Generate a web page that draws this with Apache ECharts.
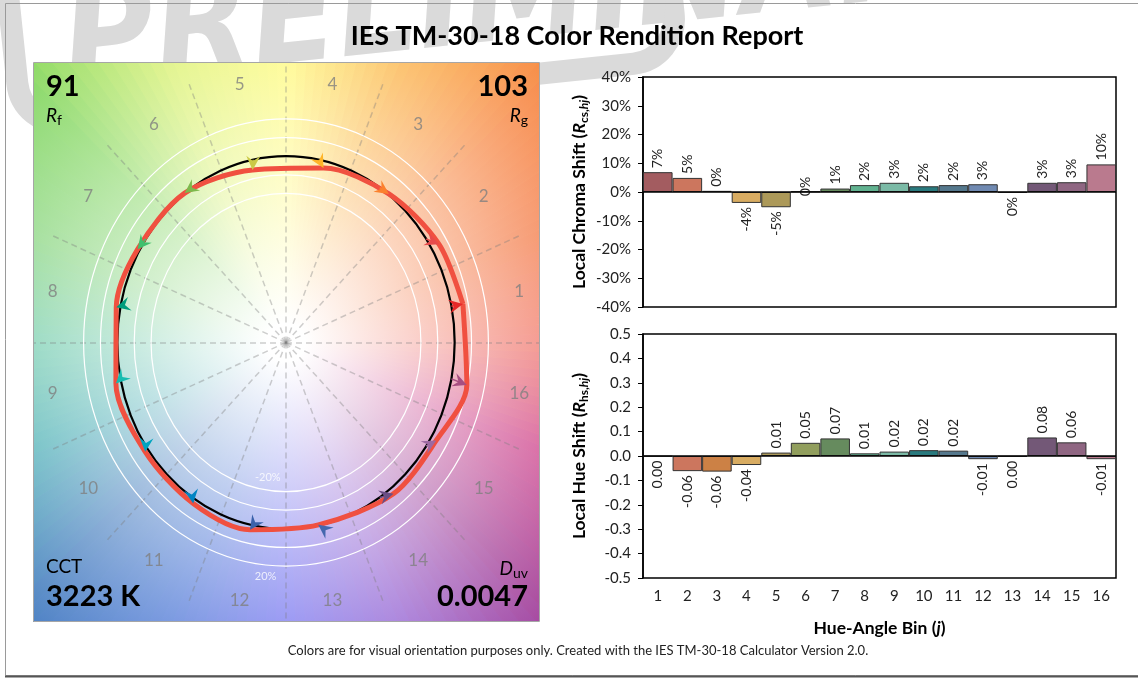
<!DOCTYPE html>
<html>
<head>
<meta charset="utf-8">
<script src="https://cdn.jsdelivr.net/npm/echarts@6/dist/echarts.min.js"></script>
<style>
  html, body { margin: 0; padding: 0; background: #fff; }
  #chart { width: 1138px; height: 679px; }
</style>
</head>
<body>
<div id="chart"></div>
<script>
var bins = ['1', '2', '3', '4', '5', '6', '7', '8', '9', '10', '11', '12', '13', '14', '15', '16'];
var binCenters = [11.25, 33.75, 56.25, 78.75, 101.25, 123.75, 146.25, 168.75, 191.25, 213.75, 236.25, 258.75, 281.25, 303.75, 326.25, 348.75];
var binEdges = [0, 22.5, 45, 67.5, 90, 112.5, 135, 157.5, 180, 202.5, 225, 247.5, 270, 292.5, 315, 337.5];
// local chroma shift, %
var chromaShift = [6.9, 4.9, 0.4, -3.8, -5.3, 0.2, 1.2, 2.4, 3.2, 2.0, 2.4, 2.7, -0.3, 3.2, 3.4, 9.6];
// local hue shift
var hueShift = [-0.002, -0.062, -0.064, -0.037, 0.014, 0.054, 0.072, 0.011, 0.018, 0.024, 0.022, -0.013, -0.003, 0.076, 0.056, -0.013];
var refRings = [0.8, 0.9, 1.1, 1.2];
var refCircle = [1.0];
var ringLabels = ['-20%', '20%'];
var Rf = 91, Rg = 103, CCT = 3223, Duv = 0.0047;

var barColors = ['#a35c60', '#cc765e', '#cc8145', '#d8ac62', '#ac9959', '#919e5d', '#668b5e', '#61b290',
                 '#7bbaa6', '#297a7e', '#55788d', '#708ab2', '#988caa', '#735877', '#8f6682', '#ba7a8e'];
var arrowColors = ['#e62828', '#e74b4b', '#fb812e', '#ffb529', '#cbca46', '#7eb94c', '#41c06d', '#009c7c',
                   '#16bcb0', '#00a4bf', '#0085c3', '#3b62aa', '#4568ae', '#6a4e85', '#9d69a1', '#a74f81'];
// background tint at the panel corner distance, every 22.5 deg starting at 0 (right)
var bgColors = ['#f06a5c', '#f3743e', '#f78a48', '#fbb44c', '#fffa78', '#dcf274', '#88d866', '#84d47a',
                '#6ccaa8', '#48aeb4', '#4e84c2', '#5880d8', '#7676f0', '#9868d4', '#a8489c', '#cc3a86'];

var FONT = 'Lato, "Open Sans", sans-serif';
var D2R = Math.PI / 180;

function hex(c) {
    return [parseInt(c.slice(1, 3), 16), parseInt(c.slice(3, 5), 16), parseInt(c.slice(5, 7), 16)];
}
function mixRgb(x, y, t) {
    return [0, 1, 2].map(function (k) { return Math.round(x[k] + (y[k] - x[k]) * t); });
}
function css(c) { return 'rgb(' + c.join(',') + ')'; }
function bgAt(deg) {
    var p = deg / 22.5, i0 = Math.floor(p) % 16, i1 = (i0 + 1) % 16;
    return mixRgb(hex(bgColors[i0]), hex(bgColors[i1]), p - Math.floor(p));
}

// reference and test points of the colour vector graphic
var vectors = binCenters.map(function (a, i) {
    var r = 1 + chromaShift[i] / 100;
    var t = a * D2R + hueShift[i];
    return [Math.cos(a * D2R), Math.sin(a * D2R), r * Math.cos(t), r * Math.sin(t), i];
});
var testCurve = vectors.map(function (v) { return [v[2], v[3]]; });
testCurve.push(testCurve[0]);

function renderBackground(params, api) {
    var c = api.coord([0, 0]);
    var tl = api.coord([-1.5, 1.5]);
    var br = api.coord([1.5, -1.5]);
    var R = Math.sqrt(Math.pow((br[0] - tl[0]) / 2, 2) + Math.pow((br[1] - tl[1]) / 2, 2));
    var kids = [];
    var N = 180;
    for (var k = 0; k < N; k++) {
        var a0 = k * 360 / N, a1 = (k + 1) * 360 / N, am = (a0 + a1) / 2;
        var col = bgAt(am);
        var grad = {
            type: 'radial', x: c[0], y: c[1], r: R, global: true,
            colorStops: [
                { offset: 0, color: '#ffffff' },
                { offset: 0.05, color: '#ffffff' },
                { offset: 1, color: css(col) }
            ]
        };
        kids.push({
            type: 'sector',
            shape: { cx: c[0], cy: c[1], r0: 0, r: R + 10, startAngle: -a1 * D2R, endAngle: -a0 * D2R, clockwise: true },
            style: { fill: grad, stroke: grad, lineWidth: 1.2 }
        });
    }
    return { type: 'group', children: kids };
}

function renderRing(stroke, width) {
    return function (params, api) {
        var r = api.value(0);
        var c = api.coord([0, 0]);
        var s = api.size([r, r]);
        return {
            type: 'ellipse',
            shape: { cx: c[0], cy: c[1], rx: s[0], ry: s[1] },
            style: { fill: null, stroke: stroke, lineWidth: width }
        };
    };
}

function renderArrow(params, api) {
    var p0 = api.coord([api.value(0), api.value(1)]);
    var p1 = api.coord([api.value(2), api.value(3)]);
    var col = arrowColors[api.value(4)];
    var dx = p1[0] - p0[0], dy = p1[1] - p0[1];
    var len = Math.sqrt(dx * dx + dy * dy) || 1;
    var ux = dx / len, uy = dy / len, nx = -uy, ny = ux;
    var L = 14, W = 7, notch = 5;
    var bx = p1[0] - L * ux, by = p1[1] - L * uy;
    return {
        type: 'group',
        children: [
            { type: 'line', shape: { x1: p0[0], y1: p0[1], x2: p1[0] - 4 * ux, y2: p1[1] - 4 * uy }, style: { stroke: col, lineWidth: 1.5 } },
            {
                type: 'polygon',
                shape: { points: [[p1[0], p1[1]], [bx + W * nx, by + W * ny], [p1[0] - (L - notch) * ux, p1[1] - (L - notch) * uy], [bx - W * nx, by - W * ny]] },
                style: { fill: col }
            }
        ]
    };
}

var subRich = {
    b: { fontFamily: FONT, fontSize: 17.5, fontWeight: 'bold', color: '#000', lineHeight: 22 },
    bi: { fontFamily: FONT, fontSize: 17.5, fontWeight: 'bold', fontStyle: 'italic', color: '#000', lineHeight: 22 },
    s: { fontFamily: FONT, fontSize: 12, fontWeight: 'bold', color: '#000', lineHeight: 12, padding: [10, 0, 0, 0] },
    si: { fontFamily: FONT, fontSize: 12, fontWeight: 'bold', fontStyle: 'italic', color: '#000', lineHeight: 12, padding: [10, 0, 0, 0] }
};
var cornerRich = {
    i: { fontFamily: FONT, fontSize: 19, fontStyle: 'italic', color: '#000', lineHeight: 20 },
    n: { fontFamily: FONT, fontSize: 19, color: '#000', lineHeight: 20 },
    s: { fontFamily: FONT, fontSize: 14, color: '#000', lineHeight: 14, padding: [8, 0, 0, 0] }
};

var barLabel = function (fmt) {
    return {
        show: true, position: 'outside', rotate: 90, verticalAlign: 'middle', distance: 4,
        fontFamily: FONT, fontSize: 14, color: '#222', formatter: fmt
    };
};
var zeroLine = {
    silent: true, symbol: 'none', label: { show: false },
    lineStyle: { color: '#000', width: 1.5, type: 'solid' },
    data: [{ yAxis: 0 }]
};
function barData(values) {
    return values.map(function (v, i) {
        return { value: v, itemStyle: { color: barColors[i] }, label: { align: v >= 0 ? 'left' : 'right' } };
    });
}

var yAxisCommon = {
    type: 'value',
    axisLine: { show: true, lineStyle: { color: '#000', width: 1.5 } },
    axisTick: { show: true, length: 5, lineStyle: { color: '#000', width: 1 } },
    splitLine: { show: false },
    nameLocation: 'middle', nameRotate: 90, nameGap: 53,
    nameTextStyle: { rich: subRich }
};

var option = {
    backgroundColor: '#fff',
    animation: false,
    grid: [
        { left: 33, top: 63, width: 506, height: 559 },
        { left: 643, top: 77, width: 473, height: 230, show: true, borderColor: '#000', borderWidth: 1.5, backgroundColor: 'transparent' },
        { left: 643, top: 334, width: 473, height: 244, show: true, borderColor: '#000', borderWidth: 1.5, backgroundColor: 'transparent' }
    ],
    xAxis: [
        { gridIndex: 0, type: 'value', min: -1.5, max: 1.5, show: false },
        { gridIndex: 1, type: 'category', data: bins, axisLine: { show: false }, axisTick: { show: false }, axisLabel: { show: false } },
        {
            gridIndex: 2, type: 'category', data: bins, axisLine: { show: false }, axisTick: { show: false },
            axisLabel: { fontFamily: FONT, fontSize: 15, color: '#222', margin: 11 },
            name: '{b|Hue-Angle Bin (}{bi|j}{b|)}', nameLocation: 'middle', nameGap: 39,
            nameTextStyle: { rich: subRich }
        }
    ],
    yAxis: [
        { gridIndex: 0, type: 'value', min: -1.5, max: 1.5, show: false },
        Object.assign({}, yAxisCommon, {
            gridIndex: 1, min: -40, max: 40, interval: 10,
            axisLabel: { fontFamily: FONT, fontSize: 15, color: '#222', margin: 12, formatter: '{value}%' },
            name: '{b|Local Chroma Shift (}{bi|R}{s|cs,}{si|hj}{b|)}'
        }),
        Object.assign({}, yAxisCommon, {
            gridIndex: 2, min: -0.5, max: 0.5, interval: 0.1,
            axisLabel: {
                fontFamily: FONT, fontSize: 15, color: '#222', margin: 12,
                formatter: function (v) { return Math.abs(v) < 1e-9 ? '0.0' : v.toFixed(1); }
            },
            name: '{b|Local Hue Shift (}{bi|R}{s|hs,}{si|hj}{b|)}'
        })
    ],
    series: [
        {
            type: 'custom', xAxisIndex: 0, yAxisIndex: 0, clip: true, silent: true, z: 1,
            data: [[0, 0]], renderItem: renderBackground
        },
        {
            type: 'lines', coordinateSystem: 'cartesian2d', xAxisIndex: 0, yAxisIndex: 0, silent: true, z: 2,
            lineStyle: { color: 'rgba(125,125,125,0.75)', width: 1.5, type: [6, 4] },
            data: binEdges.map(function (a) {
                return { coords: [[0, 0], [1.5 * Math.cos(a * D2R), 1.5 * Math.sin(a * D2R)]] };
            })
        },
        {
            type: 'custom', xAxisIndex: 0, yAxisIndex: 0, silent: true, z: 3,
            data: refRings.map(function (r) { return [r, 0]; }), renderItem: renderRing('#ffffff', 1.2)
        },
        {
            type: 'custom', xAxisIndex: 0, yAxisIndex: 0, silent: true, z: 4,
            data: refCircle.map(function (r) { return [r, 0]; }), renderItem: renderRing('#000000', 2.2)
        },
        {
            type: 'line', xAxisIndex: 0, yAxisIndex: 0, silent: true, z: 5,
            data: testCurve, smooth: 0.3, symbol: 'none',
            lineStyle: { color: '#f05040', width: 5 }
        },
        {
            type: 'custom', xAxisIndex: 0, yAxisIndex: 0, silent: true, z: 6,
            data: vectors, renderItem: renderArrow
        },
        {
            type: 'scatter', xAxisIndex: 0, yAxisIndex: 0, silent: true, z: 7,
            symbolSize: 1, itemStyle: { color: 'rgba(0,0,0,0)' },
            label: { show: true, position: 'inside', formatter: '{b}', fontFamily: FONT, fontSize: 17, color: '#808080' },
            data: binCenters.map(function (a, i) {
                return { name: bins[i], value: [1.41 * Math.cos(a * D2R), 1.41 * Math.sin(a * D2R)] };
            })
        },
        {
            type: 'scatter', xAxisIndex: 0, yAxisIndex: 0, silent: true, z: 7,
            symbolSize: 1, itemStyle: { color: 'rgba(0,0,0,0)' },
            label: { show: true, position: 'inside', formatter: '{b}', fontFamily: FONT, fontSize: 11, color: '#ffffff' },
            data: [
                { name: ringLabels[0], value: [0.73 * Math.cos(261.5 * D2R), 0.73 * Math.sin(261.5 * D2R)] },
                { name: ringLabels[1], value: [1.26 * Math.cos(264.5 * D2R), 1.26 * Math.sin(264.5 * D2R)] }
            ]
        },
        {
            type: 'bar', xAxisIndex: 1, yAxisIndex: 1, barCategoryGap: '0%',
            itemStyle: { borderColor: '#333', borderWidth: 1 },
            label: barLabel(function (p) { return Math.round(p.value) + '%'; }),
            data: barData(chromaShift), markLine: zeroLine
        },
        {
            type: 'bar', xAxisIndex: 2, yAxisIndex: 2, barCategoryGap: '0%',
            itemStyle: { borderColor: '#333', borderWidth: 1 },
            label: barLabel(function (p) { return Math.abs(p.value) < 0.005 ? '0.00' : p.value.toFixed(2); }),
            data: barData(hueShift), markLine: zeroLine
        }
    ],
    graphic: [
        // watermark stamp, behind everything
        {
            type: 'group', x: 22, y: 128, rotation: 6 * D2R, z: 0, silent: true,
            children: [
                { type: 'rect', shape: { x: 0, y: -260, width: 660, height: 260, r: 45 }, style: { fill: null, stroke: '#dadada', lineWidth: 22 } },
                {
                    type: 'text', x: 50, y: -4,
                    style: { text: 'PRELIMINARY', font: 'italic bold 140px "Liberation Sans Narrow", "DejaVu Sans Condensed", sans-serif', fill: '#dadada', textVerticalAlign: 'bottom', verticalAlign: 'bottom' }
                }
            ]
        },
        { type: 'rect', z: 50, silent: true, shape: { x: 5.5, y: 3.5, width: 1160, height: 672 }, style: { fill: null, stroke: '#9a9a9a', lineWidth: 1 } },
        { type: 'line', z: 50, silent: true, shape: { x1: 5, y1: 676.5, x2: 1138, y2: 676.5 }, style: { stroke: '#555', lineWidth: 2 } },
        { type: 'rect', z: 50, silent: true, shape: { x: 33.5, y: 62.5, width: 506, height: 559 }, style: { fill: null, stroke: '#a6a6a6', lineWidth: 1 } },
        {
            type: 'text', z: 50, x: 577, y: 36,
            style: { text: 'IES TM-30-18 Color Rendition Report', font: 'bold 27px ' + FONT, fill: '#000', textAlign: 'center', align: 'center', textVerticalAlign: 'middle', verticalAlign: 'middle' }
        },
        {
            type: 'text', z: 50, x: 578, y: 651,
            style: { text: 'Colors are for visual orientation purposes only. Created with the IES TM-30-18 Calculator Version 2.0.', font: '13px ' + FONT, fill: '#222', textAlign: 'center', align: 'center', textVerticalAlign: 'middle', verticalAlign: 'middle' }
        },
        { type: 'text', z: 50, x: 46, y: 87, style: { text: String(Rf), font: 'bold 29px ' + FONT, fill: '#000', textVerticalAlign: 'middle', verticalAlign: 'middle' } },
        { type: 'text', z: 50, x: 46, y: 116, style: { text: '{i|R}{s|f}', rich: cornerRich, textVerticalAlign: 'middle', verticalAlign: 'middle' } },
        { type: 'text', z: 50, x: 528, y: 87, style: { text: String(Rg), font: 'bold 29px ' + FONT, fill: '#000', textAlign: 'right', align: 'right', textVerticalAlign: 'middle', verticalAlign: 'middle' } },
        { type: 'text', z: 50, x: 528, y: 116, style: { text: '{i|R}{s|g}', rich: cornerRich, textAlign: 'right', align: 'right', textVerticalAlign: 'middle', verticalAlign: 'middle' } },
        { type: 'text', z: 50, x: 46, y: 567, style: { text: '{n|CCT}', rich: cornerRich, textVerticalAlign: 'middle', verticalAlign: 'middle' } },
        { type: 'text', z: 50, x: 46, y: 597, style: { text: CCT + ' K', font: 'bold 29px ' + FONT, fill: '#000', textVerticalAlign: 'middle', verticalAlign: 'middle' } },
        { type: 'text', z: 50, x: 528, y: 569, style: { text: '{i|D}{s|uv}', rich: cornerRich, textAlign: 'right', align: 'right', textVerticalAlign: 'middle', verticalAlign: 'middle' } },
        { type: 'text', z: 50, x: 528, y: 597, style: { text: Duv.toFixed(4), font: 'bold 29px ' + FONT, fill: '#000', textAlign: 'right', align: 'right', textVerticalAlign: 'middle', verticalAlign: 'middle' } }
    ]
};

echarts.init(document.getElementById('chart')).setOption(option);
</script>
</body>
</html>
